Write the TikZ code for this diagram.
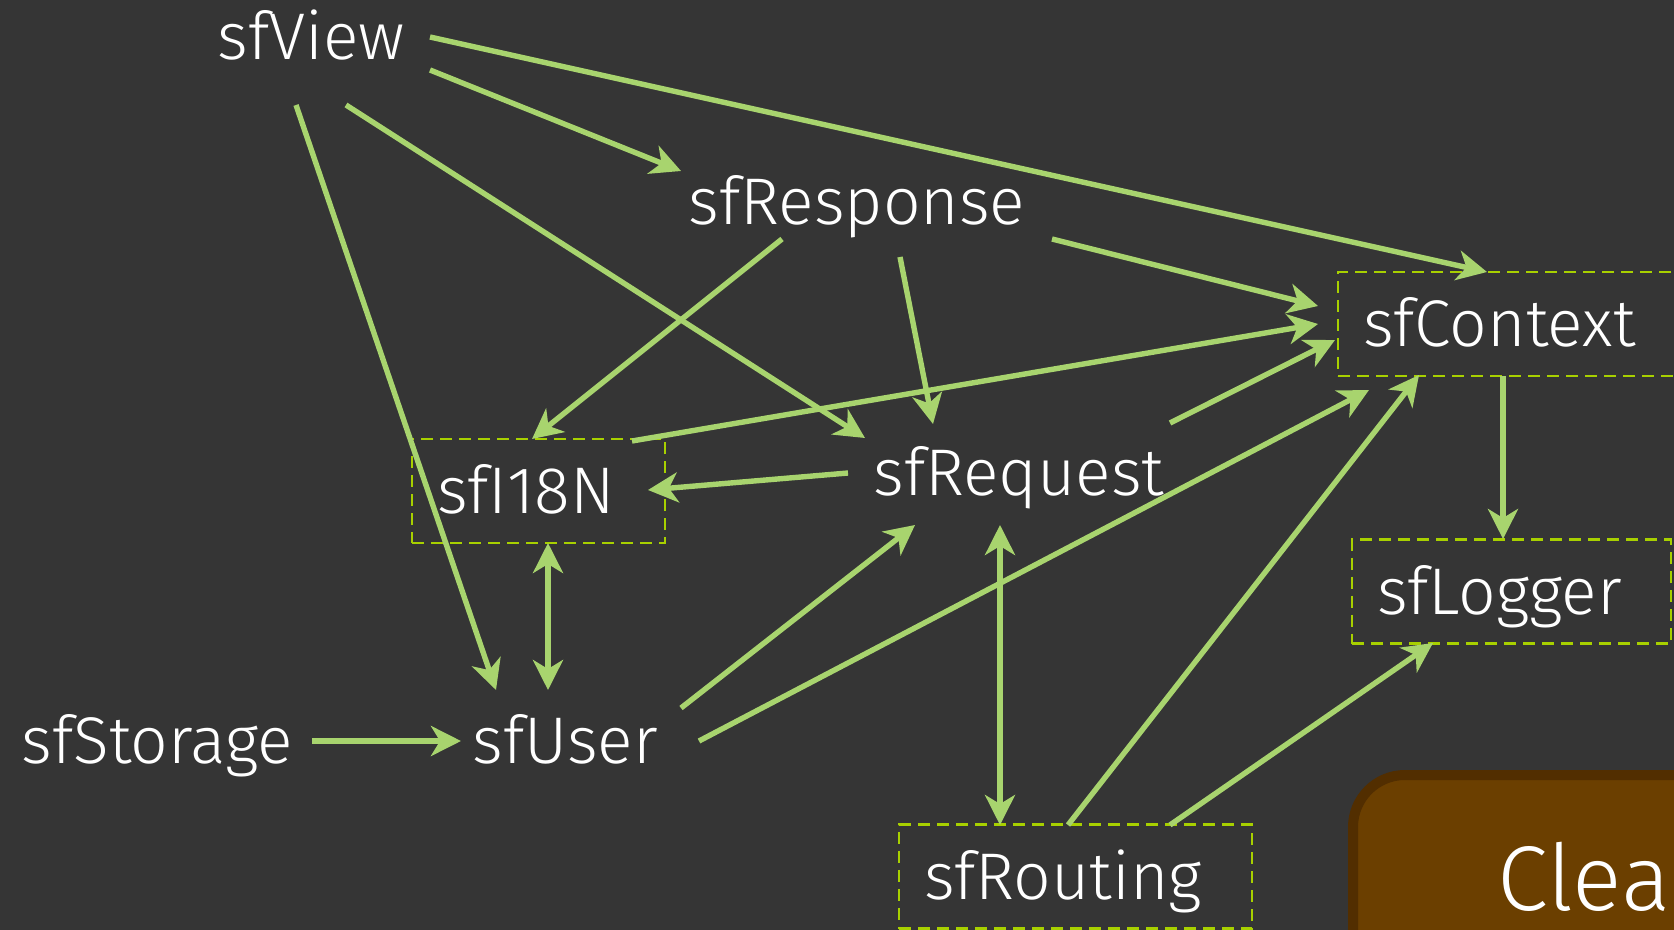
\documentclass[tikz,border=0pt]{standalone}
\usepackage{fontspec}
\setmainfont{Fira Sans Light}
\usetikzlibrary{arrows.meta,calc}
\definecolor{bgcol}{RGB}{53,53,53}
\definecolor{arrcol}{RGB}{168,212,110}
\definecolor{boxcol}{RGB}{168,208,0}
\definecolor{noteborder}{RGB}{82,46,0}
\definecolor{notefill}{RGB}{107,63,0}
\begin{document}
\begin{tikzpicture}[x=0.5pt,y=-0.5pt,
      every node/.style={text=white,font=\fontsize{33}{40}\selectfont,
        inner sep=0pt,text height=22.5pt,text depth=0pt},
      lib/.style={draw=boxcol,line width=1.3pt,dash pattern=on 6pt off 3.5pt,
        minimum height=52pt,inner xsep=12.5pt,align=left},
      dep/.style={draw=arrcol,line width=2.7pt,-{Stealth[length=15pt,width=15pt,inset=4.5pt]}},
      both/.style={dep,{Stealth[length=15pt,width=15pt,inset=4.5pt]}-{Stealth[length=15pt,width=15pt,inset=4.5pt]}}]
    \path[use as bounding box,fill=bgcol] (0,0) rectangle (1674,930);
    \clip (0,0) rectangle (1674,930);

    \draw[noteborder,fill=notefill,line width=5pt,rounded corners=26pt]
      (1353,775) rectangle (1800,1000);
    \node[anchor=base west,font=\fontsize{46}{55}\selectfont,text height=,text depth=] (note) at (1497,910) {Clea};

    \node (view) at (311,37.5) {sfView};
    \node (response) at (857,202.5) {sfResponse};
    \node (request) at (1019,472.5) {sfRequest};
    \node (user) at (565,740.5) {sfUser};
    \node (storage) at (157.5,740.5) {sfStorage};
    \node[lib,text width=101.5pt] (i18n) at (538.5,491) {sfI18N};
    \node[lib,text width=151pt] (ctx) at (1514,324) {sfContext};
    \node[lib,text width=134.5pt] (logger) at (1511.5,591.5) {sfLogger};
    \node[lib,text width=151.5pt] (routing) at (1075.5,876.5) {sfRouting};

    \draw[dep] ($(view)+(119,-0.5)$) -- ($(ctx)+(-27,-52)$);
    \draw[dep] ($(view)+(119,32.5)$) -- ($(response)+(-176,-31.5)$);
    \draw[dep] ($(view)+(35,67.5)$) -- ($(request)+(-154,-34.5)$);
    \draw[dep] ($(view)+(-15,67.5)$) -- ($(user)+(-69,-50.5)$);
    \draw[dep] ($(response)+(-75,36.5)$) -- ($(i18n)+(-6.5,-52)$);
    \draw[dep] ($(response)+(43,54.5)$) -- ($(request)+(-86,-48.5)$);
    \draw[dep] ($(response)+(195,36.5)$) -- ($(ctx)+(-196,-18)$);
    \draw[dep] ($(i18n)+(93.5,-50)$) -- ($(ctx)+(-196,0)$);
    \draw[dep] ($(request)+(-171,0.5)$) -- ($(i18n)+(109.5,-1)$);
    \draw[dep] ($(request)+(151,-49.5)$) -- ($(ctx)+(-179,16)$);
    \draw[both] ($(i18n)+(9.5,52)$) -- ($(user)+(-17,-50.5)$);
    \draw[dep] ($(user)+(116,-32.5)$) -- ($(request)+(-104,52.5)$);
    \draw[dep] ($(user)+(134,0.5)$) -- ($(ctx)+(-145,66)$);
    \draw[dep] ($(storage)+(154.5,0.5)$) -- ($(user)+(-104,0.5)$);
    \draw[both] ($(request)+(-19,52.5)$) -- ($(routing)+(-75.5,-51.5)$);
    \draw[dep] ($(routing)+(-7.5,-51.5)$) -- ($(ctx)+(-95,51)$);
    \draw[dep] ($(routing)+(94.5,-51.5)$) -- ($(logger)+(-78.5,51.5)$);
    \draw[dep] ($(ctx)+(-11,52)$) -- ($(logger)+(-8.5,-52.5)$);
\end{tikzpicture}
\end{document}
